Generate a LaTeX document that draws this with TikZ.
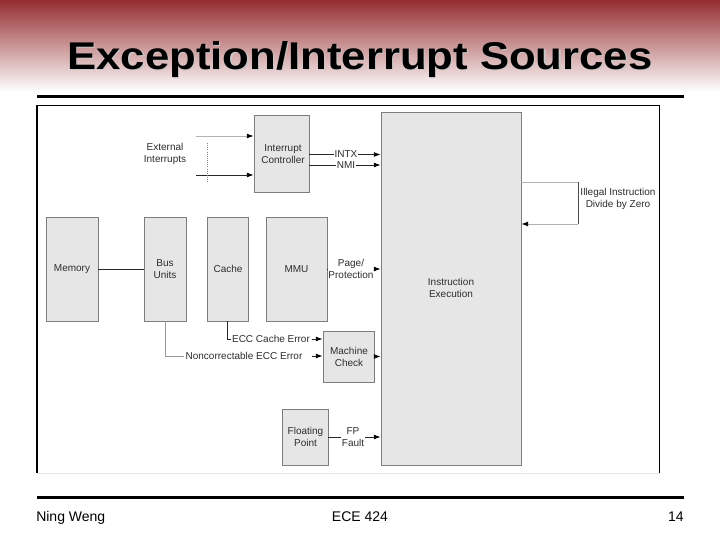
\documentclass[tikz,border=0pt]{standalone}
\usepackage{fontspec}
\setmainfont{Liberation Sans}
\usetikzlibrary{arrows.meta,fit}
\definecolor{boxfill}{RGB}{230,230,230}
\definecolor{boxline}{RGB}{125,125,125}
\definecolor{txt}{RGB}{45,45,45}
\definecolor{hdr}{RGB}{150,45,48}
\definecolor{hdrmid}{RGB}{196,150,150}
\begin{document}
\begin{tikzpicture}[x=0.75pt,y=-0.75pt,
  blk/.style={draw=boxline, fill=boxfill, line width=0.6pt, inner sep=0pt},
  lbl/.style={font=\fontsize{7.5}{9}\selectfont, text=txt, align=center, inner sep=1pt},
  wire/.style={line width=0.6pt, draw=black!85},
  arr/.style={wire, -{Latex[length=5pt,width=3.6pt,color=black]}},
  faint/.style={draw=black!30},
]
\useasboundingbox (0,0) rectangle (720,540);
\fill[white] (0,0) rectangle (720,540);
\shade[top color=hdr, middle color=hdrmid, bottom color=white] (0,0) rectangle (720,92);
% title
\node[anchor=base, font=\bfseries\fontsize{29}{30}\selectfont, xscale=1.13, transform shape, text=black!22] (titleshadow) at (361.2,70.5) {Exception/Interrupt Sources};
\node[anchor=base, font=\bfseries\fontsize{29}{30}\selectfont, xscale=1.13, transform shape] (title) at (360,69.3) {Exception/Interrupt Sources};
\draw[line width=1.9pt] (37,96.5) -- (684,96.5);
\draw[line width=1.9pt] (37,497.5) -- (684,497.5);
% frame
\draw[black!10, line width=0.6pt] (37,473) -- (659.5,473);
\draw[line width=0.9pt] (37,473) -- (37,105.5) -- (659.5,105.5) -- (659.5,473);
% blocks
\node[blk, fit={(254,115)(309,192)}] (ic) {};
\node[blk, fit={(381,112)(521,465)}] (ie) {};
\node[blk, fit={(46,217)(98,321)}] (mem) {};
\node[blk, fit={(144,217)(186,321)}] (bus) {};
\node[blk, fit={(207,217)(248,321)}] (cache) {};
\node[blk, fit={(266,217)(327,321)}] (mmu) {};
\node[blk, fit={(323,331)(374,382)}] (mc) {};
\node[blk, fit={(282,409)(328,465)}] (fp) {};
\node[lbl] (ict) at (283,154) {Interrupt\\Controller};
\node[lbl] (iet) at (451,288) {Instruction\\Execution};
\node[lbl] (memt) at (72,269) {Memory};
\node[lbl] (bust) at (165,269) {Bus\\Units};
\node[lbl] (cachet) at (228,269) {Cache};
\node[lbl] (mmut) at (296.5,269) {MMU};
\node[lbl] (mct) at (349,356.5) {Machine\\Check};
\node[lbl] (fpt) at (305.5,437) {Floating\\Point};
% external interrupts
\node[lbl] (ext) at (165,154) {External\\Interrupts};
\coordinate (e1) at (196,136);
\coordinate (e2) at (196,175);
\coordinate (d1) at (207,143);
\coordinate (d2) at (207,182);
\draw[arr, faint] (e1) -- (e1 -| ic.west);
\draw[arr] (e2) -- (e2 -| ic.west);
\draw[densely dotted, black!50, line width=0.6pt] (d1) -- (d2);
% INTX / NMI
\node[lbl, inner sep=0.5pt] (intx) at (346,154.5) {INTX};
\node[lbl, inner sep=0.5pt] (nmi) at (346,165) {NMI};
\draw[wire] (ic.east |- intx) -- (intx);
\draw[arr] (intx) -- (intx -| ie.west);
\draw[wire] (ic.east |- nmi) -- (nmi);
\draw[arr] (nmi) -- (nmi -| ie.west);
% memory - bus
\draw[wire] (mem) -- (bus);
% page/protection
\node[lbl, inner sep=0.5pt] (pp) at (351,269) {Page/\\Protection};
\draw[wire] (mmu.east |- pp) -- (pp);
\draw[arr] (pp) -- (pp -| ie.west);
% ECC
\node[lbl] (ecc) at (271,339) {ECC Cache Error};
\draw[wire] (cache.south) |- (ecc.west);
\draw[arr] (ecc) -- (ecc -| mc.west);
\node[lbl] (nce) at (244,356) {Noncorrectable ECC Error};
\draw[wire, draw=black!40] (bus.south) |- (nce.west);
\draw[arr] (nce.east) ++(8,0) coordinate (nce2) (nce2) -- (nce2 -| mc.west);
\draw[arr] (mc.east) -- (mc.east -| ie.west);
% FP
\node[lbl, inner sep=0.5pt] (fpf) at (353,437) {FP\\Fault};
\draw[wire] (fp.east |- fpf) -- (fpf);
\draw[arr] (fpf) -- (fpf -| ie.west);
% illegal / divide
\coordinate (il1) at (578,182);
\coordinate (il2) at (578,224);
\draw[wire, faint] (ie.east |- il1) -- (il1);
\draw[wire, draw=black!70] (il1) -- (il2);
\draw[arr, faint] (il2) -- (il2 -| ie.east);
\node[lbl] (ill) at (618,199) {Illegal Instruction\\Divide by Zero};
% footer
\node[anchor=base west, font=\fontsize{10.5}{12}\selectfont, inner sep=0pt] (f1) at (36,521) {Ning Weng};
\node[anchor=base, font=\fontsize{10.5}{12}\selectfont, inner sep=0pt] (f2) at (360,521) {ECE 424};
\node[anchor=base east, font=\fontsize{10.5}{12}\selectfont, inner sep=0pt] (f3) at (684,521) {14};
\end{tikzpicture}
\end{document}
